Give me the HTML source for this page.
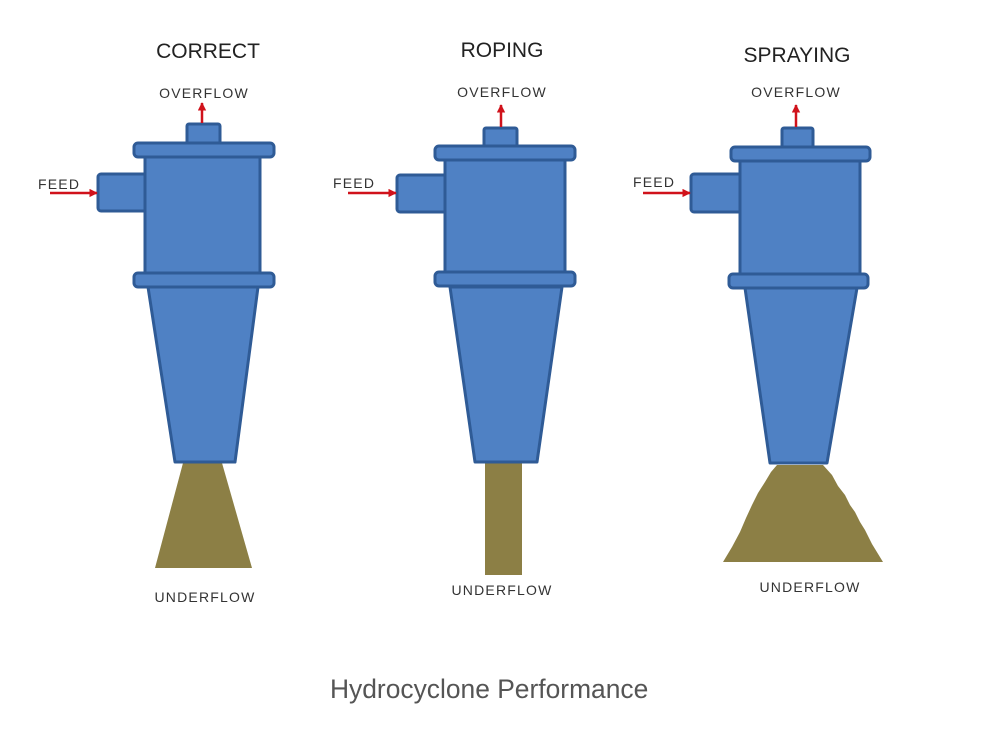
<!DOCTYPE html>
<html>
<head>
<meta charset="utf-8">
<style>
  html, body { margin:0; padding:0; background:#ffffff; }
  body { width:1000px; height:742px; overflow:hidden; }
  svg { display:block; }
  .t { font-family:"Liberation Sans", Arial, sans-serif; fill:#222; font-size:21px; }
  .l { font-family:"Liberation Sans", Arial, sans-serif; fill:#333; font-size:14px; letter-spacing:1.2px; }
  .cap { font-family:"Liberation Sans", Arial, sans-serif; fill:#555; font-size:26.4px; }
</style>
</head>
<body>
<svg width="1000" height="742" viewBox="0 0 1000 742" xmlns="http://www.w3.org/2000/svg">
  <defs>
    <marker id="ah" viewBox="0 0 10 10" refX="9" refY="5" markerWidth="3.4" markerHeight="3.4" orient="auto">
      <path d="M0,0 L10,5 L0,10 z" fill="#d0121b"/>
    </marker>
  </defs>
  <rect width="1000" height="742" fill="#fff"/>

  <g stroke="#2f5b96" stroke-width="3" fill="#4f81c4" stroke-linejoin="round">
    <!-- Cyclone 1 -->
    <polygon points="183,463 222,463 252,568 155,568" fill="#8c7f45" stroke="none"/>
    <rect x="187" y="124" width="33" height="21" rx="2"/>
    <rect x="98" y="174" width="49" height="37" rx="3"/>
    <rect x="145" y="156" width="115" height="118"/>
    <polygon points="148,287 258,287 235,462 175,462"/>
    <rect x="134" y="143" width="140" height="14" rx="4"/>
    <rect x="134" y="273" width="140" height="14" rx="4"/>

    <!-- Cyclone 2 -->
    <rect x="485" y="462" width="37" height="113" fill="#8c7f45" stroke="none"/>
    <rect x="484" y="128" width="33" height="20" rx="2"/>
    <rect x="397" y="175" width="50" height="37" rx="3"/>
    <rect x="445" y="159" width="120" height="115"/>
    <polygon points="450,287 562,287 537,462 475,462"/>
    <rect x="435" y="146" width="140" height="14" rx="4"/>
    <rect x="435" y="272" width="140" height="14" rx="4"/>

    <!-- Cyclone 3 -->
    <polygon points="777,465 823,465 832,475 838,486 845,495 850,505 855,512 860,522 865,530 872,544 883,562 723,562 732,547 740,532 746,518 752,505 758,493 765,482 771,472" fill="#8c7f45" stroke="none"/>
    <rect x="782" y="128" width="31" height="20" rx="2"/>
    <rect x="691" y="174" width="51" height="38" rx="3"/>
    <rect x="740" y="161" width="120" height="114"/>
    <polygon points="745,288 857,288 827,463 770,463"/>
    <rect x="731" y="147" width="139" height="14" rx="4"/>
    <rect x="729" y="274" width="139" height="14" rx="4"/>
  </g>

  <!-- arrows -->
  <g stroke="#d0121b" stroke-width="2.5" fill="none">
    <line x1="50" y1="193" x2="97" y2="193" marker-end="url(#ah)"/>
    <line x1="202" y1="123" x2="202" y2="103" marker-end="url(#ah)"/>
    <line x1="348" y1="193" x2="396" y2="193" marker-end="url(#ah)"/>
    <line x1="501" y1="127" x2="501" y2="105" marker-end="url(#ah)"/>
    <line x1="643" y1="193" x2="690" y2="193" marker-end="url(#ah)"/>
    <line x1="796" y1="127" x2="796" y2="105" marker-end="url(#ah)"/>
  </g>

  <!-- titles -->
  <text class="t" x="208" y="58" text-anchor="middle">CORRECT</text>
  <text class="t" x="502" y="57" text-anchor="middle">ROPING</text>
  <text class="t" x="797" y="62" text-anchor="middle">SPRAYING</text>

  <!-- labels -->
  <text class="l" x="204" y="98" text-anchor="middle">OVERFLOW</text>
  <text class="l" x="502" y="97" text-anchor="middle">OVERFLOW</text>
  <text class="l" x="796" y="97" text-anchor="middle">OVERFLOW</text>

  <text class="l" x="38" y="189">FEED</text>
  <text class="l" x="333" y="188">FEED</text>
  <text class="l" x="633" y="187">FEED</text>

  <text class="l" x="205" y="602" text-anchor="middle">UNDERFLOW</text>
  <text class="l" x="502" y="595" text-anchor="middle">UNDERFLOW</text>
  <text class="l" x="810" y="592" text-anchor="middle">UNDERFLOW</text>

  <text class="cap" x="330" y="698">Hydrocyclone Performance</text>
</svg>
</body>
</html>
